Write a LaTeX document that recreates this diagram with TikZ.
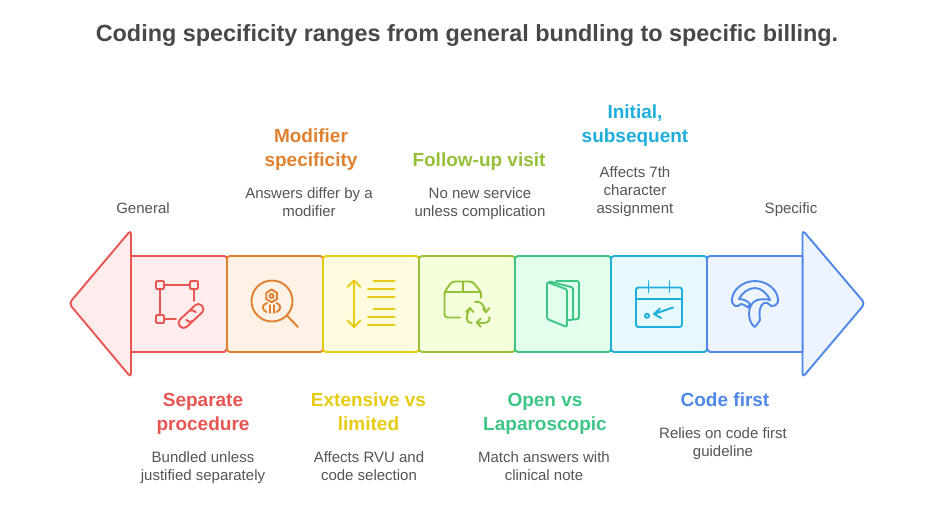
\documentclass[tikz,border=0pt]{standalone}
\usepackage{fontspec}
\setmainfont{Liberation Sans}
\definecolor{cR}{HTML}{E85653}\definecolor{fR}{HTML}{FFEDED}
\definecolor{cO}{HTML}{E08130}\definecolor{fO}{HTML}{FFF1E5}
\definecolor{cY}{HTML}{E6CC14}\definecolor{fY}{HTML}{FFFBDF}
\definecolor{cL}{HTML}{96BF3A}\definecolor{fL}{HTML}{F4FFDC}
\definecolor{cG}{HTML}{3DC587}\definecolor{fG}{HTML}{E2FFEE}
\definecolor{cC}{HTML}{1FAEDB}\definecolor{fC}{HTML}{E6F9FF}
\definecolor{cB}{HTML}{4F88E6}\definecolor{fB}{HTML}{EDF3FF}
\definecolor{ttl}{HTML}{484848}\definecolor{bdy}{HTML}{555555}
\tikzset{
  stagebox/.style={draw=#1,line width=1.9pt,rounded corners=3pt,minimum width=96pt,minimum height=96pt,inner sep=0pt,outer sep=0pt},
  endarrow/.style={line width=1.9pt,rounded corners=4pt,line join=round},
  ico/.style={line width=1.9pt,line cap=round,line join=round},
  headtxt/.style={font=\fontsize{19}{24}\selectfont\bfseries,align=center,inner sep=0pt},
  bodytxt/.style={font=\fontsize{15}{18}\selectfont,align=center,inner sep=0pt,text=bdy},
}
\begin{document}
\begin{tikzpicture}[x=1pt,y=-1pt]
\useasboundingbox (0,0) rectangle (934,517);
\fill[white] (0,0) rectangle (934,517);
\node[inner sep=0pt,text=ttl,font=\fontsize{23.4}{28}\selectfont\bfseries] (title) at (467,35.5) {Coding specificity ranges from general bundling to specific billing.};
% end arrows and stages
\draw[endarrow,draw=cR,fill=fR] (131,303) -- (131,230) -- (69,303.5) -- (131,377.5) -- cycle;
\draw[endarrow,draw=cB,fill=fB] (802.5,303) -- (802.5,230) -- (865,303.5) -- (802.5,377.5) -- cycle;
\path[fill=fR,draw=cR,line width=1.9pt] (131,256) -- (224,256) to[out=0,in=90] (227,259) -- (227,349) to[out=90,in=0] (224,352) -- (131,352) -- cycle;
\node[stagebox=cO,fill=fO] (s2) at (275,304) {};
\node[stagebox=cY,fill=fY] (s3) at (371,304) {};
\node[stagebox=cL,fill=fL] (s4) at (467,304) {};
\node[stagebox=cG,fill=fG] (s5) at (563,304) {};
\node[stagebox=cC,fill=fC] (s6) at (659,304) {};
\path[fill=fB,draw=cB,line width=1.9pt] (802.5,256) -- (710,256) to[out=180,in=90] (707,259) -- (707,349) to[out=90,in=180] (710,352) -- (802.5,352) -- cycle;
% icon 1
\begin{scope}[ico,draw=cR]
\draw (164,285) -- (190,285) (194,289) -- (194,301) (160,289) -- (160,315) (164,319) -- (176,319);
\draw[rounded corners=1pt] (156,281) rectangle (164,289) (190,281) rectangle (198,289) (156,315) rectangle (164,323);
\begin{scope}[shift={(191,316)},rotate=43]
\draw[rounded corners=4.5pt] (6,0.5) -- (6,-5) -- (-15,-5) -- (-15,5) -- (-3,5);
\draw[rounded corners=4.5pt] (-6,-0.5) -- (-6,5) -- (15,5) -- (15,-5) -- (3,-5);
\end{scope}
\end{scope}
% icon 2
\begin{scope}[ico,draw=cO]
\draw (272,301) circle (20.5pt);
\draw (287,315.5) -- (298,327);
\draw (271.6,289.5) -- (277,292.8) -- (277,299) -- (271.6,302.2) -- (266.2,299) -- (266.2,292.8) -- cycle;
\draw (271.6,296) circle (2pt);
\draw (267,303) .. controls (261,305) and (262,310) .. (266.5,312);
\draw (276.5,303) .. controls (282,305) and (281,310) .. (276.5,312);
\draw (269.7,305) -- (269.7,313) (274,305) -- (274,313);
\end{scope}
% icon 3
\begin{scope}[line width=2.1pt,line cap=round,line join=round,draw=cY]
\draw (354,281) -- (354,327);
\draw (347.5,287) -- (354,280.5) -- (360.5,287);
\draw (347.5,320.5) -- (354,327) -- (360.5,320.5);
\draw (373.5,281) -- (394.5,281) (368,289) -- (394.5,289) (368,297) -- (394.5,297) (373.5,309) -- (394.5,309) (368,317) -- (394.5,317) (368,325) -- (394.5,325);
\end{scope}
% icon 4
\begin{scope}[ico,draw=cL]
\draw[rounded corners=3pt] (460,317.5) -- (444.5,317.5) -- (444.5,292) -- (452,281.5) -- (472.5,281.5) -- (481,292) -- (481,298);
\draw (444.5,292) -- (481,292) (462.7,281.5) -- (462.7,292);
\draw (475,302) .. controls (480,300) and (484,305) .. (486,312);
\draw (483,308.7) -- (486,312.3) -- (489.3,308);
\draw (489.3,317.3) .. controls (491,322) and (486,324) .. (477,322.5);
\draw (480.7,318.7) -- (476.7,322.3) -- (480.7,326.7);
\draw (471.7,323) .. controls (466,323) and (465,318) .. (470,308);
\draw (466,312) -- (470,308) -- (473.3,312);
\end{scope}
% icon 5
\begin{scope}[ico,draw=cG,rounded corners=1.5pt]
\draw (547,282) -- (567,289.5) -- (567,327) -- (547,319) -- cycle;
\draw (550,281.5) -- (573,287.5) -- (573,320) -- (567.5,320);
\draw (556,281) -- (579,281) -- (579,319) -- (573.5,319.5);
\end{scope}
% icon 6
\begin{scope}[ico,draw=cC]
\draw[rounded corners=2.5pt] (636,287.5) rectangle (682,327);
\draw (636,299) -- (682,299) (648.5,281) -- (648.5,292.5) (669.5,281) -- (669.5,292.5);
\draw (647,315.8) circle (2pt);
\draw (673,307.5) -- (654,314) (660,308.5) -- (654,314) -- (661,318);
\end{scope}
% icon 7
\begin{scope}[ico,draw=cB]
\draw (732,302) .. controls (731,290) and (743,281) .. (755,281) .. controls (767,281) and (779,290) .. (778,302)
  .. controls (776,305) and (774,307) .. (771,306) .. controls (768,303) and (766,302) .. (764,303)
  .. controls (759,306) and (759,313) .. (760,320) .. controls (758,323) and (756,326) .. (754.5,327)
  .. controls (751,324) and (749,319) .. (749,314) .. controls (749,307) and (752,302) .. (757,300)
  .. controls (762,299) and (767,299) .. (770,300) .. controls (767,293) and (761,288) .. (755,288)
  .. controls (748,288) and (742,293) .. (739,299) .. controls (743,299) and (748,301) .. (750,304)
  -- (748,307.5) .. controls (745,305) and (742,304) .. (741,304) .. controls (739,305.5) and (737,307) .. (735,306)
  .. controls (734,305) and (733,303.5) .. (732,302) -- cycle;
\end{scope}
% labels
\node[bodytxt] (lgen) at (143,209.5) {\strut General};
\node[bodytxt] (lspec) at (791,209.5) {\strut Specific};
\node[headtxt,text=cO] (h2) at (311,150) {\strut Modifier\\\strut specificity};
\node[bodytxt] (d2) at (309,203.5) {\strut Answers differ by a\\\strut modifier};
\node[headtxt,text=cL] (h4) at (479,162) {\strut Follow-up visit};
\node[bodytxt] (d4) at (480,203.5) {\strut No new service\\\strut unless complication};
\node[headtxt,text=cC] (h6) at (635,126) {\strut Initial,\\\strut subsequent};
\node[bodytxt] (d6) at (635,191.5) {\strut Affects 7th\\\strut character\\\strut assignment};
\node[headtxt,text=cR] (h1) at (203,414) {\strut Separate\\\strut procedure};
\node[bodytxt] (d1) at (203,467.5) {\strut Bundled unless\\\strut justified separately};
\node[headtxt,text=cY] (h3) at (368.5,414) {\strut Extensive vs\\\strut limited};
\node[bodytxt] (d3) at (369,467.5) {\strut Affects RVU and\\\strut code selection};
\node[headtxt,text=cG] (h5) at (545,414) {\strut Open vs\\\strut Laparoscopic};
\node[bodytxt] (d5) at (544,467.5) {\strut Match answers with\\\strut clinical note};
\node[headtxt,text=cB] (h7) at (725,402) {\strut Code first};
\node[bodytxt] (d7) at (723,443.5) {\strut Relies on code first\\\strut guideline};
\end{tikzpicture}
\end{document}
